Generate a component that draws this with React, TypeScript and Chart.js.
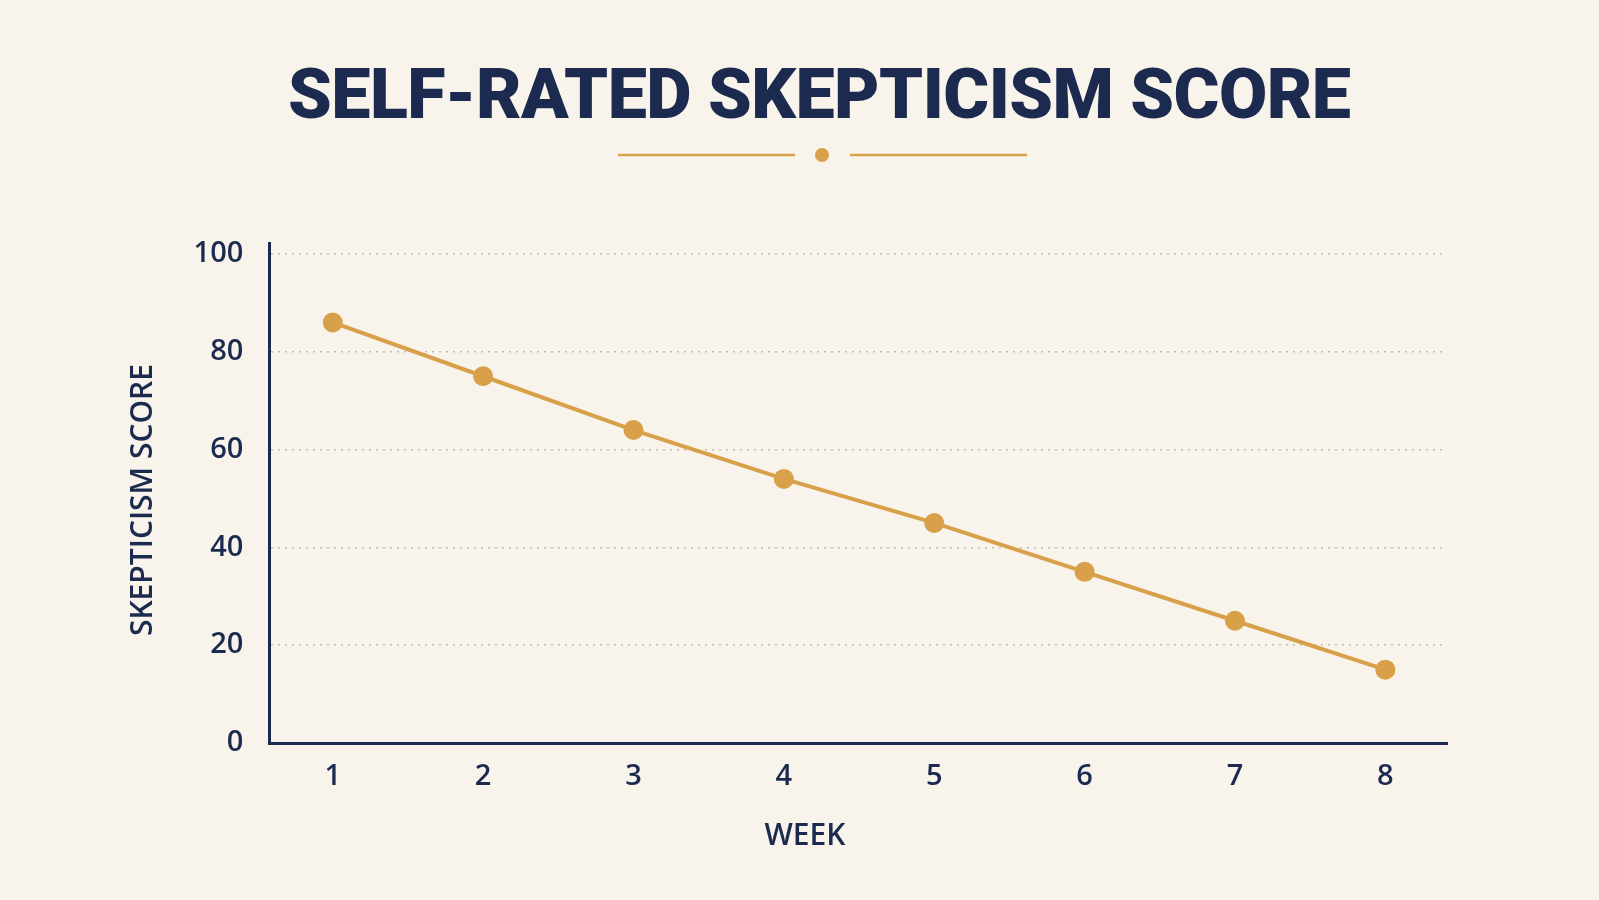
import React, { useEffect, useRef } from "react";
import { Chart, registerables } from "chart.js";

Chart.register(...registerables);

// Weekly self-rated skepticism scores
const weeks = [1, 2, 3, 4, 5, 6, 7, 8];
const weekLabels = ["1", "2", "3", "4", "5", "6", "7", "8"];
const skepticismScores = [86, 75, 64, 54, 45, 35, 25, 15];
const scoreTicks = [0, 20, 40, 60, 80, 100];

const chartTitle = "SELF-RATED SKEPTICISM SCORE";
const xAxisTitle = "WEEK";
const yAxisTitle = "SKEPTICISM SCORE";

const NAVY = "#1B2A4E";
const GOLD = "#D9A04A";
const CREAM = "#F8F4EC";
const GRID = "#C2BDB3";

const WIDTH = 1599;
const HEIGHT = 900;

const LABEL_FONT = "'Open Sans', sans-serif";

// Background, heading, ornament divider and axis titles
const decorPlugin = {
  id: "decor",
  beforeDraw(chart: any) {
    const { ctx, width, height } = chart;
    ctx.save();
    ctx.fillStyle = CREAM;
    ctx.fillRect(0, 0, width, height);
    ctx.restore();
  },
  afterDraw(chart: any) {
    const ctx = chart.ctx as CanvasRenderingContext2D;
    ctx.save();

    // heading, tracked out to span its block
    ctx.fillStyle = NAVY;
    ctx.font = "900 70px Roboto, 'DejaVu Sans', sans-serif";
    ctx.textAlign = "left";
    ctx.textBaseline = "alphabetic";
    const targetWidth = 1063;
    (ctx as any).letterSpacing = "0px";
    const raw = ctx.measureText(chartTitle).width;
    const spacing = (targetWidth - raw) / (chartTitle.length - 1);
    (ctx as any).letterSpacing = `${spacing}px`;
    ctx.fillText(chartTitle, 288, 118);
    (ctx as any).letterSpacing = "0px";

    // divider with center dot
    ctx.strokeStyle = GOLD;
    ctx.lineWidth = 2.5;
    ctx.beginPath();
    ctx.moveTo(618, 155);
    ctx.lineTo(795, 155);
    ctx.moveTo(850, 155);
    ctx.lineTo(1027, 155);
    ctx.stroke();
    ctx.fillStyle = GOLD;
    ctx.beginPath();
    ctx.arc(822, 155, 7, 0, Math.PI * 2);
    ctx.fill();

    // axis titles
    ctx.fillStyle = NAVY;
    ctx.font = `600 30px ${LABEL_FONT}`;
    ctx.textAlign = "center";
    ctx.textBaseline = "alphabetic";
    ctx.fillText(xAxisTitle, 805, 845);

    ctx.translate(152, 500);
    ctx.rotate(-Math.PI / 2);
    ctx.fillText(yAxisTitle, 0, 0);

    ctx.restore();
  },
};

export default function App() {
  const canvasRef = useRef<HTMLCanvasElement | null>(null);

  useEffect(() => {
    const canvas = canvasRef.current;
    if (!canvas) return;

    const chart = new Chart(canvas, {
      type: "line",
      data: {
        datasets: [
          {
            label: yAxisTitle,
            data: weeks.map((w, i) => ({ x: w, y: skepticismScores[i] })),
            borderColor: GOLD,
            backgroundColor: GOLD,
            borderWidth: 4,
            pointRadius: 10,
            pointHoverRadius: 10,
            pointBackgroundColor: GOLD,
            pointBorderColor: GOLD,
            pointBorderWidth: 0,
            tension: 0,
            fill: false,
          },
        ],
      },
      options: {
        responsive: false,
        animation: false,
        events: [],
        layout: {
          padding: { top: 243, right: 152, left: 0, bottom: 0 },
        },
        plugins: {
          legend: { display: false },
          title: { display: false },
          tooltip: { enabled: false },
        },
        scales: {
          x: {
            type: "linear",
            min: 0.578,
            max: 8.41,
            afterBuildTicks: (scale: any) => {
              scale.ticks = weeks.map((w) => ({ value: w }));
            },
            afterFit: (scale: any) => {
              scale.height = 157;
            },
            grid: { display: false, drawTicks: false },
            border: { display: true, color: NAVY, width: 3 },
            ticks: {
              padding: 16,
              color: NAVY,
              font: { family: LABEL_FONT, size: 29, weight: "600" },
              callback: (value: any) => {
                const idx = weeks.indexOf(Number(value));
                return idx >= 0 ? weekLabels[idx] : "";
              },
              maxRotation: 0,
            },
          },
          y: {
            type: "linear",
            min: 0,
            max: 102.25,
            afterBuildTicks: (scale: any) => {
              scale.ticks = scoreTicks.map((v) => ({ value: v }));
            },
            afterFit: (scale: any) => {
              scale.width = 269.3;
            },
            grid: {
              display: true,
              drawTicks: false,
              color: GRID,
              lineWidth: 1.5,
            },
            border: { display: true, color: NAVY, width: 3, dash: [2, 5] },
            ticks: {
              padding: 26,
              color: NAVY,
              font: { family: LABEL_FONT, size: 29, weight: "600" },
            },
          },
        },
      },
      plugins: [decorPlugin],
    } as any);

    return () => {
      chart.destroy();
    };
  }, []);

  return (
    <div
      style={{
        position: "fixed",
        left: 0,
        top: 0,
        width: WIDTH,
        height: HEIGHT,
        background: CREAM,
      }}
    >
      <canvas
        ref={canvasRef}
        width={WIDTH}
        height={HEIGHT}
        style={{ display: "block", width: WIDTH, height: HEIGHT }}
      />
    </div>
  );
}
